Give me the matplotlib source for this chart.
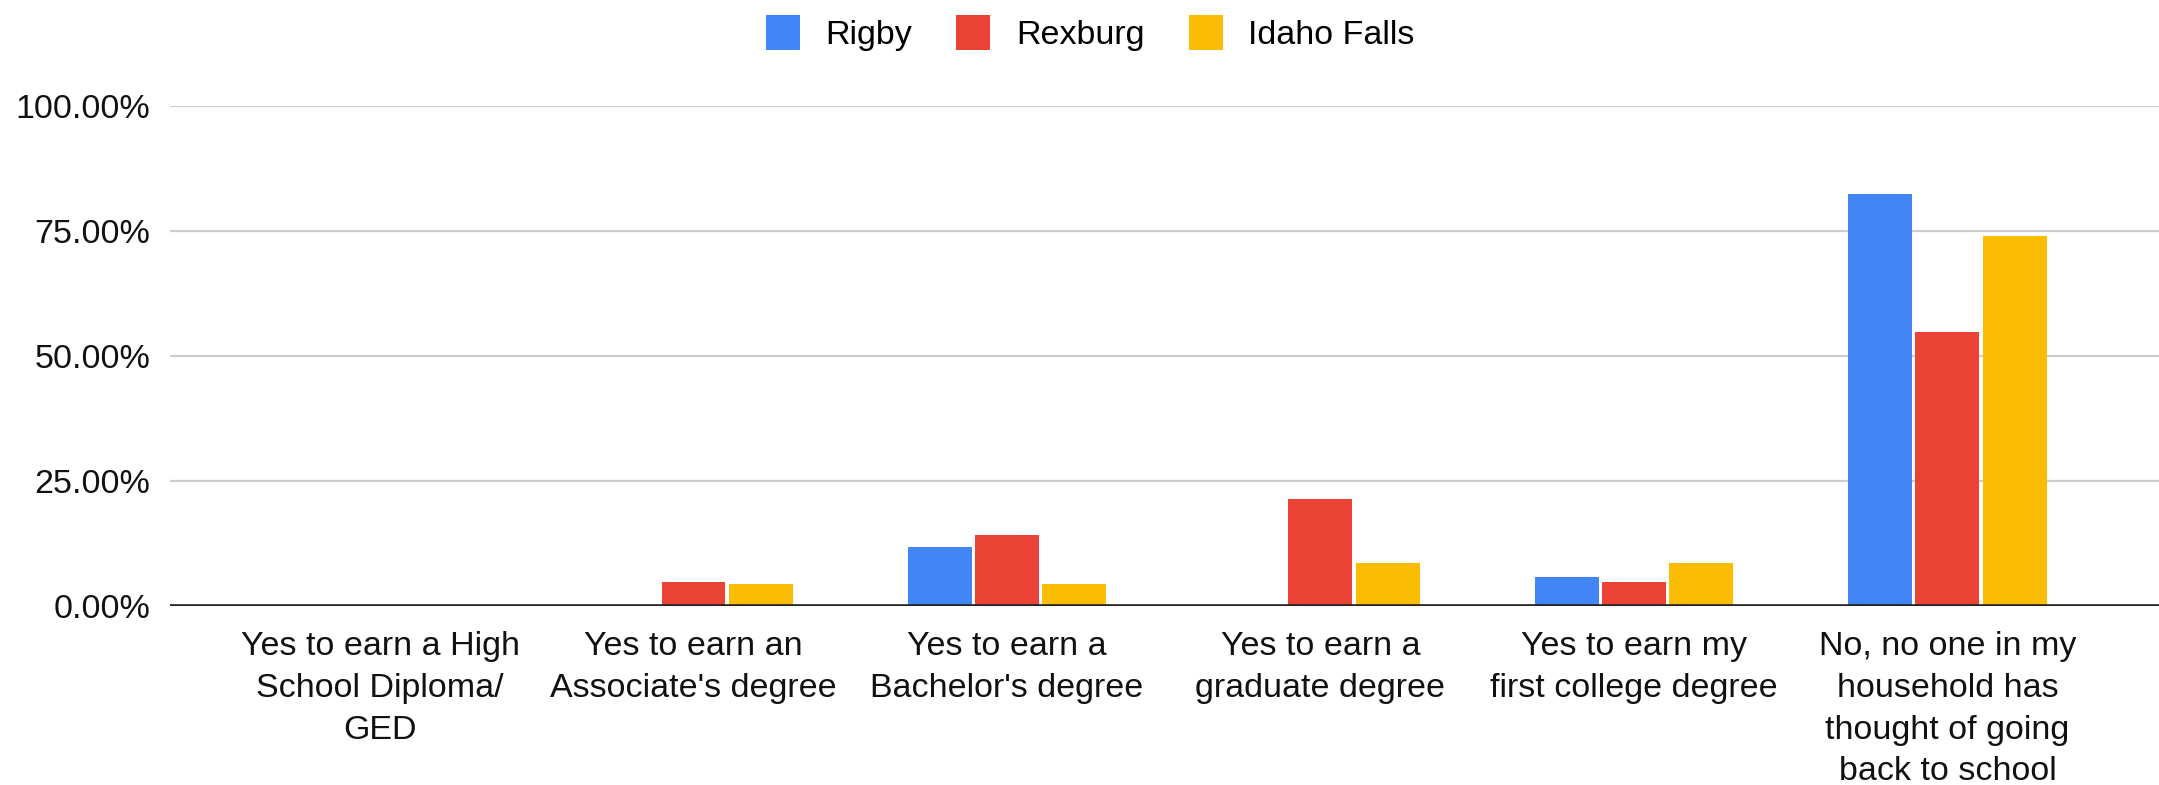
import matplotlib.pyplot as plt
import numpy as np
from matplotlib.ticker import PercentFormatter

plt.rcParams['font.family'] = ['Liberation Sans', 'DejaVu Sans']

# Data (fractions)
categories = ["Yes to earn a High\nSchool Diploma/\nGED",
              "Yes to earn an\nAssociate's degree",
              "Yes to earn a\nBachelor's degree",
              "Yes to earn a\ngraduate degree",
              "Yes to earn my\nfirst college degree",
              "No, no one in my\nhousehold has\nthought of going\nback to school"]
rigby = [0.0, 0.0, 0.1176, 0.0, 0.0588, 0.8235]
rexburg = [0.0, 0.0476, 0.1429, 0.2143, 0.0476, 0.5476]
idaho_falls = [0.0, 0.0435, 0.0435, 0.0870, 0.0870, 0.7391]
series = ['Rigby', 'Rexburg', 'Idaho Falls']
colors = ['#4285F4', '#EA4335', '#FBBC04']

fig = plt.figure(figsize=(21.59, 7.85), dpi=100)
ax = fig.add_axes([170 / 2159, 179 / 785, 1989 / 2159, 500 / 785])

x = np.arange(len(categories))
step = 0.215
width = 0.204
for i, (vals, name, c) in enumerate(zip([rigby, rexburg, idaho_falls], series, colors)):
    ax.bar(x + (i - 1) * step, vals, width, color=c, label=name, zorder=3)

ax.set_xlim(-0.67, 5.675)
ax.set_ylim(0, 1.0)
ax.set_yticks([0, 0.25, 0.5, 0.75, 1.0])
ax.yaxis.set_major_formatter(PercentFormatter(1.0, decimals=2))
ax.grid(axis='y', color='#cccccc', linewidth=1.6, zorder=0)
ax.axhline(0, color='#222222', linewidth=2.6, zorder=4)
for s in ax.spines.values():
    s.set_visible(False)

ax.set_xticks(x)
ax.set_xticklabels(categories, fontsize=24.5, linespacing=1.45)
ax.tick_params(axis='x', length=0, pad=18, labelcolor='#111111')
ax.tick_params(axis='y', length=0, pad=14, labelsize=24.5, labelcolor='#111111')

fig.legend(loc='upper center', bbox_to_anchor=(0.505, 0.998), ncol=3, frameon=False,
           fontsize=24.5, handlelength=1.0, handleheight=1.2, handletextpad=0.75,
           columnspacing=1.3, borderaxespad=0.0)

fig.savefig('out.png', dpi=100, facecolor='white')
